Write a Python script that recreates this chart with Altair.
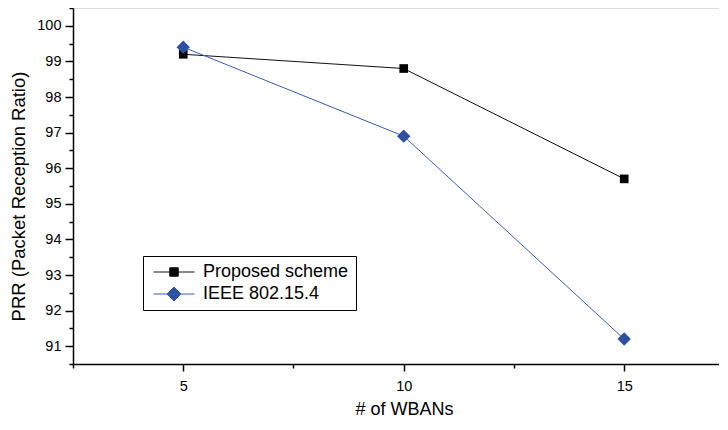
import altair as alt
import pandas as pd

# ---- data ----
wbans = [5, 10, 15]
proposed_prr = [99.2, 98.8, 95.7]
ieee_prr = [99.4, 96.9, 91.2]
series_names = ["Proposed scheme", "IEEE 802.15.4"]
line_colors = ["#111111", "#3a5cb0"]
marker_colors = ["#000000", "#2e50a2"]

x_tick_values = [2.5, 5, 7.5, 10, 12.5, 15]
y_tick_values = [90.5, 91, 91.5, 92, 92.5, 93, 93.5, 94, 94.5, 95, 95.5,
                 96, 96.5, 97, 97.5, 98, 98.5, 99, 99.5, 100, 100.5]

# legend symbols: a line with the marker on it (custom SVG paths)
legend_shapes = [
    "M-2.93,0H2.93M-0.61,-0.61H0.61V0.61H-0.61Z",
    "M-2.93,0H2.93M-1,0L0,-1L1,0L0,1Z",
]

df = pd.DataFrame({
    "n": wbans + wbans,
    "prr": proposed_prr + ieee_prr,
    "series": [series_names[0]] * len(wbans) + [series_names[1]] * len(wbans),
})

FONT = "Liberation Sans"

x_enc = alt.X(
    "n:Q",
    scale=alt.Scale(domain=[2.5, 17.15], nice=False, zero=False),
    axis=alt.Axis(
        values=x_tick_values,
        labelExpr="datum.value % 5 === 0 ? format(datum.value, 'd') : ''",
        tickSize={"condition": {"test": "datum.value % 5 === 0", "value": 7}, "value": 4},
        grid=False, domainColor="black", tickColor="black",
        domainWidth=1.5, tickWidth=1.5,
        labelFont=FONT, labelFontSize=14.5, labelColor="black",
        labelPadding=8, labelFlush=False, labelOverlap=False,
        titleFont=FONT, titleFontSize=18, titleFontWeight="normal",
        titleColor="black", titlePadding=8, titleX=331,
    ),
    title="# of WBANs",
)

y_enc = alt.Y(
    "prr:Q",
    scale=alt.Scale(domain=[90.5, 100.5], nice=False, zero=False),
    axis=alt.Axis(
        values=y_tick_values,
        labelExpr="datum.value % 1 === 0 ? format(datum.value, 'd') : ''",
        tickSize={"condition": {"test": "datum.value % 1 === 0", "value": 8}, "value": 4},
        grid=False, domainColor="black", tickColor="black",
        domainWidth=1.5, tickWidth=1.5,
        labelFont=FONT, labelFontSize=14.5, labelColor="black",
        labelPadding=4, labelFlush=False, labelOverlap=False,
        titleFont=FONT, titleFontSize=18.5, titleFontWeight="normal",
        titleColor="black", titlePadding=8, titleY=188,
    ),
    title="PRR (Packet Reception Ratio)",
)

base = alt.Chart(df)

line_prop = base.transform_filter(alt.datum.series == series_names[0]).mark_line(
    strokeWidth=1, color=line_colors[0]
).encode(x=x_enc, y=y_enc)

line_ieee = base.transform_filter(alt.datum.series == series_names[1]).mark_line(
    strokeWidth=1, color=line_colors[1]
).encode(x=x_enc, y=y_enc)

squares = base.transform_filter(alt.datum.series == series_names[0]).mark_point(
    shape="square", filled=True, size=75, color=marker_colors[0], opacity=1
).encode(x=x_enc, y=y_enc)

diamonds = base.transform_filter(alt.datum.series == series_names[1]).mark_point(
    shape="diamond", filled=True, size=180, color=marker_colors[1], opacity=1
).encode(x=x_enc, y=y_enc)

legend_def = dict(
    orient="none", legendX=70, legendY=248, title=None,
    fillColor="white", strokeColor="black",
    padding=7, labelFont=FONT, labelFontSize=18, labelColor="black",
    symbolSize=196, symbolStrokeWidth=1, symbolOffset=15, labelOffset=20,
    rowPadding=4,
)

# legend-only layer: no marks of its own, the legend draws line+marker symbols
legend_layer = base.transform_filter("false").mark_point(filled=True, opacity=1).encode(
    x=x_enc, y=y_enc,
    fill=alt.Fill("series:N", scale=alt.Scale(domain=series_names, range=marker_colors),
                  legend=alt.Legend(**legend_def)),
    stroke=alt.Stroke("series:N", scale=alt.Scale(domain=series_names, range=line_colors),
                      legend=alt.Legend(**legend_def)),
    shape=alt.Shape("series:N", scale=alt.Scale(domain=series_names, range=legend_shapes),
                    legend=alt.Legend(**legend_def)),
)

chart = alt.layer(line_prop, line_ieee, squares, diamonds, legend_layer).properties(
    width=646, height=356,
    autosize=alt.AutoSizeParams(type="none"),
    padding={"left": 65, "top": 0, "right": 0, "bottom": 56},
).configure_view(strokeWidth=0).configure(background="white")

chart.save("out.html", embed_options={"renderer": "svg", "actions": False})
